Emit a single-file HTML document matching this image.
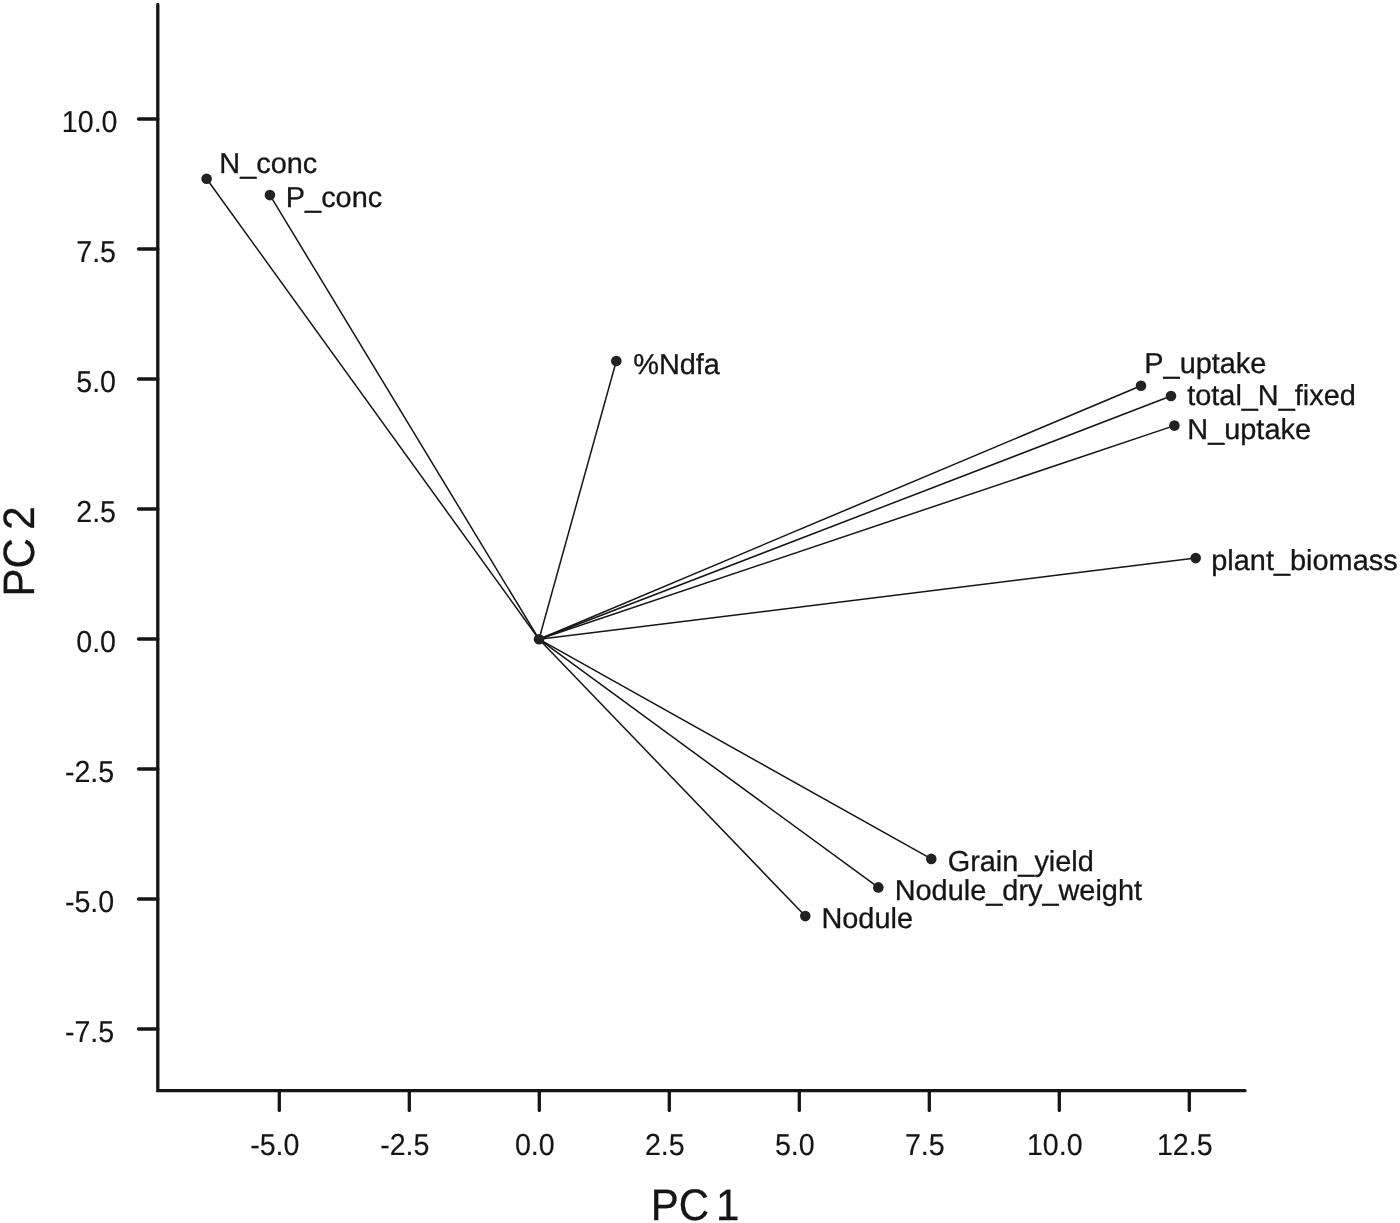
<!DOCTYPE html>
<html lang="en"><head><meta charset="utf-8"><title>PCA biplot</title>
<style>
html,body{margin:0;padding:0;background:#fff;}
body{width:1400px;height:1223px;overflow:hidden;}
svg{display:block;}
text{font-family:"Liberation Sans",Arial,Helvetica,sans-serif;fill:#151515;stroke:#151515;stroke-width:.3px;text-rendering:geometricPrecision;}
.tk{font-size:28.6px;stroke-width:.15px;}
.lb{font-size:28.9px;}
.ti{font-size:42px;}
</style></head><body>
<svg width="1400" height="1223" viewBox="0 0 1400 1223">
<rect width="1400" height="1223" fill="#fff"/>

<g stroke="#151515" stroke-width="3.3" stroke-linecap="round" fill="none">
<path d="M157.8 4.4V1090.7H1245"/>
<path d="M279.3 1090.7V1110.4"/>
<path d="M409.3 1090.7V1110.4"/>
<path d="M539.3 1090.7V1110.4"/>
<path d="M669.3 1090.7V1110.4"/>
<path d="M799.3 1090.7V1110.4"/>
<path d="M929.3 1090.7V1110.4"/>
<path d="M1059.3 1090.7V1110.4"/>
<path d="M1189.3 1090.7V1110.4"/>
<path d="M157.8 119.0H138.5"/>
<path d="M157.8 249.0H138.5"/>
<path d="M157.8 379.0H138.5"/>
<path d="M157.8 509.0H138.5"/>
<path d="M157.8 639.0H138.5"/>
<path d="M157.8 769.0H138.5"/>
<path d="M157.8 899.0H138.5"/>
<path d="M157.8 1029.0H138.5"/>
</g>
<text class="tk" transform="translate(274.8 1155) scale(1 1.06)" text-anchor="middle">-5.0</text>
<text class="tk" transform="translate(404.8 1155) scale(1 1.06)" text-anchor="middle">-2.5</text>
<text class="tk" transform="translate(534.8 1155) scale(1 1.06)" text-anchor="middle">0.0</text>
<text class="tk" transform="translate(664.8 1155) scale(1 1.06)" text-anchor="middle">2.5</text>
<text class="tk" transform="translate(794.8 1155) scale(1 1.06)" text-anchor="middle">5.0</text>
<text class="tk" transform="translate(924.8 1155) scale(1 1.06)" text-anchor="middle">7.5</text>
<text class="tk" transform="translate(1054.8 1155) scale(1 1.06)" text-anchor="middle">10.0</text>
<text class="tk" transform="translate(1184.8 1155) scale(1 1.06)" text-anchor="middle">12.5</text>
<text class="tk" transform="translate(117.5 131.8) scale(1 1.06)" text-anchor="end">10.0</text>
<text class="tk" transform="translate(116.0 261.9) scale(1 1.06)" text-anchor="end">7.5</text>
<text class="tk" transform="translate(116.0 391.9) scale(1 1.06)" text-anchor="end">5.0</text>
<text class="tk" transform="translate(116.0 521.9) scale(1 1.06)" text-anchor="end">2.5</text>
<text class="tk" transform="translate(116.0 651.9) scale(1 1.06)" text-anchor="end">0.0</text>
<text class="tk" transform="translate(114.2 781.9) scale(1 1.06)" text-anchor="end">-2.5</text>
<text class="tk" transform="translate(114.2 911.9) scale(1 1.06)" text-anchor="end">-5.0</text>
<text class="tk" transform="translate(114.2 1041.8) scale(1 1.06)" text-anchor="end">-7.5</text>
<g stroke="#151515" stroke-width="1.5" fill="none">
<path d="M539.0 639.2L206.6 178.8"/>
<path d="M539.0 639.2L269.9 195.1"/>
<path d="M539.0 639.2L616.3 361.0"/>
<path d="M539.0 639.2L1141.0 385.7"/>
<path d="M539.0 639.2L1171.0 396.0"/>
<path d="M539.0 639.2L1174.4 425.6"/>
<path d="M539.0 639.2L1195.7 558.1"/>
<path d="M539.0 639.2L931.3 858.9"/>
<path d="M539.0 639.2L878.3 887.4"/>
<path d="M539.0 639.2L805.3 916.1"/>
</g>
<g fill="#222">
<circle cx="539.0" cy="639.2" r="5.3"/>
<circle cx="206.6" cy="178.8" r="5.3"/>
<circle cx="269.9" cy="195.1" r="5.3"/>
<circle cx="616.3" cy="361.0" r="5.3"/>
<circle cx="1141.0" cy="385.7" r="5.3"/>
<circle cx="1171.0" cy="396.0" r="5.3"/>
<circle cx="1174.4" cy="425.6" r="5.3"/>
<circle cx="1195.7" cy="558.1" r="5.3"/>
<circle cx="931.3" cy="858.9" r="5.3"/>
<circle cx="878.3" cy="887.4" r="5.3"/>
<circle cx="805.3" cy="916.1" r="5.3"/>
</g>
<text class="lb" x="219.3" y="173.1">N_conc</text>
<text class="lb" x="285.8" y="206.9">P_conc</text>
<text class="lb" x="633.2" y="373.6">%Ndfa</text>
<text class="lb" x="1144.3" y="372.8">P_uptake</text>
<text class="lb" x="1187.2" y="405.3">total_N_fixed</text>
<text class="lb" x="1187.3" y="439.2">N_uptake</text>
<text class="lb" x="1211.3" y="569.9">plant_biomass</text>
<text class="lb" x="947.7" y="871.4">Grain_yield</text>
<text class="lb" x="894.7" y="899.8">Nodule_dry_weight</text>
<text class="lb" x="821.4" y="927.9">Nodule</text>
<text class="ti" transform="translate(650.8 1219.9) scale(1 1.05)" style="word-spacing:-4.9px">PC 1</text>
<text class="ti" transform="translate(34 596.5) rotate(-90) scale(1 1.045)" style="word-spacing:-3.3px">PC 2</text>
</svg></body></html>
